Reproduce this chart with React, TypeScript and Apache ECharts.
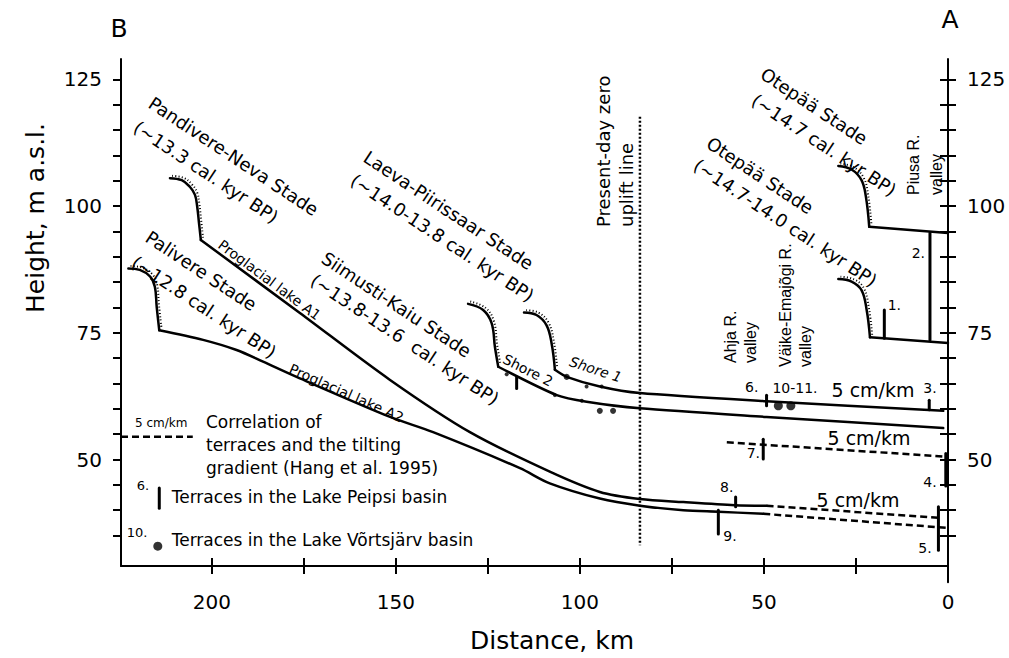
import React, { useEffect, useRef } from "react";
import * as echarts from "echarts";

// ---------- axes ----------
const xTicks = [0, 25, 50, 75, 100, 125, 150, 175, 200];
const xLabels = [0, 50, 100, 150, 200];
const yTicks = [35, 40, 45, 50, 55, 60, 65, 70, 75, 80, 85, 90, 95, 100, 105, 110, 115, 120, 125];
const yLabels = [50, 75, 100, 125];

// ---------- ice margins and shorelines [km, m a.s.l.] ----------
const pandivereMargin = [[211.4, 105.5], [208.2, 105.1], [206.0, 103.8], [204.6, 102.2], [204.0, 99.9], [203.5, 96.6], [203.0, 93.3]];
const lakeA1 = [[203.0, 93.3], [176.1, 78.9], [151.6, 65.7], [129.9, 55.4], [108.2, 47.6], [94.6, 43.6], [83.7, 42.2], [71.9, 41.6], [57.9, 41.0], [49.3, 40.9]];
const lakeA1Dashed = [[49.3, 40.9], [2.6, 38.5]];

const palivereMargin = [[222.7, 87.7], [219.6, 87.4], [216.8, 86.1], [215.5, 84.1], [215.0, 80.1], [214.3, 75.5]];
const lakeA2 = [[214.3, 75.5], [202.4, 73.6], [193.3, 71.6], [186.1, 69.3], [177.0, 66.3], [151.6, 58.4], [139.9, 55.4], [116.3, 48.3], [108.2, 45.3], [94.6, 42.3], [83.7, 40.9], [71.9, 40.0], [62.4, 39.7], [50.2, 39.3]];
const lakeA2Dashed = [[50.2, 39.3], [0, 36.5]];

const laevaMargin = [[115.2, 79.0], [111.8, 78.5], [109.1, 76.5], [107.7, 72.9], [106.8, 67.7]];
const shore1 = [[106.8, 67.7], [103.6, 66.3], [94.6, 64.4], [83.7, 63.1], [49.3, 61.5], [1.3, 59.6]];

const siimustiMargin = [[130.4, 80.7], [126.3, 79.5], [124.0, 76.9], [123.1, 72.2], [122.2, 68.3]];
const shore2 = [[122.2, 68.3], [106.3, 62.7], [98.2, 61.4], [83.7, 60.1], [49.3, 58.4], [1.3, 56.2]];

const otepaaUpperMargin = [[29.8, 107.9], [26.2, 107.2], [23.5, 105.1], [22.3, 101.8], [21.4, 95.9]];
const otepaaUpperShore = [[21.4, 95.9], [0, 94.7]];
const otepaaLowerMargin = [[29.8, 85.6], [26.2, 85.1], [23.5, 83.4], [22.1, 79.5], [21.2, 74.1]];
const otepaaLowerShore = [[21.2, 74.1], [0, 73.0]];

const gradient7 = [[60.1, 53.4], [1.3, 50.6]];
const legendGradient = [[224.7, 54.5], [205.2, 54.5]];
const zeroUpliftLine = [[83.7, 117.6], [83.7, 33.1]];

// ---------- terraces: [km, top m, bottom m] ----------
const peipsiTerraces = [
  [17.3, 79.5, 73.9], // 1
  [4.9, 94.7, 73.6], // 2
  [5.1, 61.7, 59.8], // 3
  [0.6, 51.2, 44.8], // 4
  [2.6, 40.7, 32.1], // 5
  [49.3, 62.7, 60.6], // 6
  [50.2, 54.0, 50.1], // 7
  [57.7, 42.6, 40.7], // 8
  [62.4, 40.0, 35.3], // 9
  [214.3, 44.4, 40.4], // legend
  [117.2, 66.3, 64.0], // shore mark
];
const vortsjarvDots = [[46.1, 60.6], [42.7, 60.6], [214.7, 32.9]];
const shoreDots = [[103.6, 66.3], [94.6, 59.6], [91.0, 59.6]];
const shoreSmallDots = [[106.8, 62.7], [99.5, 61.6], [98.2, 64.4], [94.1, 64.4], [119.9, 66.8]];

const axisExtensions = [
  [[0, 29], [-3.8, 29]],
  [[0, 29], [0, 25.8]],
];

const FONT = "DejaVu Sans, Verdana, sans-serif";
const NARROW = "Liberation Sans Narrow, Arial Narrow, Liberation Sans, sans-serif";
const BLACK = "#000";

function solid(data: number[][], smooth: number | boolean = false, width = 2.5) {
  return {
    type: "line", data, symbol: "none", smooth, silent: true, clip: false,
    lineStyle: { color: BLACK, width, cap: "round", join: "round" },
  };
}
function dashed(data: number[][]) {
  return {
    type: "line", data, symbol: "none", silent: true,
    lineStyle: { color: BLACK, width: 2.5, type: [7, 4] },
  };
}
function hachure(data: number[][]) {
  const shifted = data.map((p) => [p[0] - 0.6, p[1] + 0.45]);
  return {
    type: "line", data: shifted, symbol: "none", smooth: 0.4, silent: true,
    lineStyle: { color: BLACK, width: 2, type: [1, 2.2] },
  };
}

const deg = Math.PI / 180;
function txt(text: string, x: number, y: number, opts: any = {}) {
  return {
    type: "text", x, y, rotation: (opts.rot || 0) * deg, silent: true,
    style: {
      text, fill: BLACK, fontSize: opts.size || 18, fontFamily: opts.family || FONT,
      fontStyle: opts.italic ? "italic" : "normal",
      align: opts.align || "left", verticalAlign: opts.va || "middle",
    },
  };
}

export default function App() {
  const ref = useRef<HTMLDivElement>(null);
  useEffect(() => {
    document.body.style.margin = "0";
    const chart = echarts.init(ref.current!, null, { renderer: "svg" });
    const axisLine = { show: true, lineStyle: { color: BLACK, width: 2 } };
    const tickStyle = { color: BLACK, width: 2 };
    const xBase = {
      type: "value", min: 0, max: 224.7, inverse: true, position: "bottom",
      splitLine: { show: false }, axisLine: { ...axisLine, onZero: false },
    };
    const yBase = {
      type: "value", min: 29, max: 129, splitLine: { show: false },
      axisLine: { ...axisLine, onZero: false },
    };
    const series: any[] = [
      solid(pandivereMargin, 0.4), hachure(pandivereMargin), solid(lakeA1, 0.3), dashed(lakeA1Dashed),
      solid(palivereMargin, 0.4), hachure(palivereMargin), solid(lakeA2, 0.3), dashed(lakeA2Dashed),
      solid(laevaMargin, 0.4), hachure(laevaMargin), solid(shore1, 0.25),
      solid(siimustiMargin, 0.4), hachure(siimustiMargin), solid(shore2, 0.25),
      solid(otepaaUpperMargin, 0.4), hachure(otepaaUpperMargin), solid(otepaaUpperShore),
      solid(otepaaLowerMargin, 0.4), hachure(otepaaLowerMargin), solid(otepaaLowerShore),
      dashed(gradient7), dashed(legendGradient),
      {
        type: "line", data: zeroUpliftLine, symbol: "none", silent: true,
        lineStyle: { color: BLACK, width: 2.5, type: [2, 2] },
      },
      ...peipsiTerraces.map((t) => solid([[t[0], t[1]], [t[0], t[2]]], false, 3)),
      ...axisExtensions.map((d) => solid(d, false, 2)),
      { type: "scatter", data: vortsjarvDots, symbol: "circle", symbolSize: 9, itemStyle: { color: BLACK }, silent: true },
      { type: "scatter", data: shoreDots, symbol: "circle", symbolSize: 6, itemStyle: { color: BLACK }, silent: true },
      { type: "scatter", data: shoreSmallDots, symbol: "circle", symbolSize: 4, itemStyle: { color: BLACK }, silent: true },
    ];
    series.forEach((s) => { s.xAxisIndex = 0; s.yAxisIndex = 0; });

    const graphic: any[] = [
      txt("B", 119, 28, { size: 25, align: "center" }),
      txt("A", 950, 19, { size: 25, align: "center" }),
      txt("Height, m a.s.l.", 35, 218, { size: 25, rot: 90, align: "center" }),
      txt("Distance, km", 552, 640, { size: 25, align: "center" }),
      // stades
      txt("Pandivere-Neva Stade", 150.5, 101.3, { rot: -33.5 }),
      txt("(~13.3 cal. kyr BP)", 135.5, 125.3, { rot: -33.5 }),
      txt("Palivere Stade", 147.5, 235.3, { rot: -33.5 }),
      txt("(~12.8 cal. kyr BP)", 133.5, 260.3, { rot: -33.5 }),
      txt("Laeva-Piirissaar Stade", 365.5, 155.3, { rot: -33.5 }),
      txt("(~14.0-13.8 cal. kyr BP)", 352.5, 178.3, { rot: -33.5 }),
      txt("Siimusti-Kaiu Stade", 323.5, 256.3, { rot: -33.5 }),
      txt("(~13.8-13.6  cal. kyr BP)", 312.5, 278.3, { rot: -33.5 }),
      txt("Otepää Stade", 762.5, 72, { rot: -33.5 }),
      txt("(~14.7 cal. kyr BP)", 753.5, 98.3, { rot: -33.5 }),
      txt("Otepää Stade", 708.5, 141.3, { rot: -33.5 }),
      txt("(~14.7-14.0 cal. kyr BP)", 695.5, 163.3, { rot: -33.5 }),
      // lakes and shores
      txt("Proglacial lake A1", 220, 243, { size: 14, rot: -36.7 }),
      txt("Proglacial lake A2", 290, 368, { size: 14, rot: -24 }),
      txt("Shore 2", 504, 358, { size: 14, rot: -27 }),
      txt("Shore 1", 570, 361, { size: 14, rot: -18, italic: true }),
      // vertical labels
      txt("Present-day zero", 603, 227, { size: 18, rot: 90 }),
      txt("uplift line", 626, 227, { size: 18, rot: 90 }),
      txt("Ahja R.", 730, 363, { size: 16, rot: 90, family: NARROW }),
      txt("valley", 750.7, 363, { size: 16, rot: 90, family: NARROW }),
      txt("Väike-Emajõgi R.", 785, 367, { size: 16, rot: 90, family: NARROW }),
      txt("valley", 805, 367, { size: 16, rot: 90, family: NARROW }),
      txt("Piusa R.", 913, 195, { size: 16, rot: 90, family: NARROW }),
      txt("valley", 936.7, 195, { size: 16, rot: 90, family: NARROW }),
      // gradients
      txt("5 cm/km", 873, 390, { size: 19, align: "center" }),
      txt("5 cm/km", 869, 438, { size: 19, align: "center" }),
      txt("5 cm/km", 858, 500, { size: 19, align: "center" }),
      // terrace numbers
      txt("1.", 894.3, 305, { size: 14, align: "center" }),
      txt("2.", 918.3, 253.3, { size: 14, align: "center" }),
      txt("3.", 930, 388, { size: 14, align: "center" }),
      txt("4.", 930, 481.7, { size: 14, align: "center" }),
      txt("5.", 925, 548, { size: 14, align: "center" }),
      txt("6.", 751.7, 386.7, { size: 14, align: "center" }),
      txt("7.", 753.3, 453.3, { size: 14, align: "center" }),
      txt("8.", 726.7, 486.7, { size: 14, align: "center" }),
      txt("9.", 730, 536, { size: 14, align: "center" }),
      txt("10-11.", 795, 388.3, { size: 14, align: "center" }),
      // legend
      txt("5 cm/km", 135, 423, { size: 12 }),
      txt("Correlation of", 206, 421.7, { size: 17 }),
      txt("terraces and the tilting", 206, 445, { size: 17 }),
      txt("gradient (Hang et al. 1995)", 206, 468.3, { size: 17 }),
      txt("6.", 143, 485, { size: 13, align: "center" }),
      txt("Terraces in the Lake Peipsi basin", 171.7, 496.7, { size: 17 }),
      txt("10.", 137, 532, { size: 13, align: "center" }),
      txt("Terraces in the Lake Võrtsjärv basin", 171.7, 540, { size: 17 }),
    ];

    chart.setOption({
      animation: false,
      backgroundColor: "#fff",
      grid: { left: 121, right: 61, top: 59, bottom: 92, containLabel: false },
      xAxis: [
        {
          ...xBase,
          axisTick: { show: true, inside: false, length: 8, lineStyle: tickStyle, customValues: xTicks },
          axisLabel: { show: true, customValues: xLabels, margin: 26, fontSize: 20, fontFamily: FONT, color: BLACK },
        },
        {
          ...xBase, axisLine: { show: false },
          axisTick: { show: true, inside: true, length: 8, lineStyle: tickStyle, customValues: xTicks },
          axisLabel: { show: false },
        },
      ],
      yAxis: [
        {
          ...yBase, position: "left",
          axisTick: { show: true, inside: false, length: 8, lineStyle: tickStyle, customValues: yTicks },
          axisLabel: { show: true, customValues: yLabels, margin: 19, fontSize: 20, fontFamily: FONT, color: BLACK },
        },
        {
          ...yBase, position: "left", axisLine: { show: false },
          axisTick: { show: true, inside: true, length: 8, lineStyle: tickStyle, customValues: yTicks },
          axisLabel: { show: false },
        },
        {
          ...yBase, position: "right",
          axisTick: { show: true, inside: false, length: 8, lineStyle: tickStyle, customValues: yTicks },
          axisLabel: { show: true, customValues: yLabels, margin: 19, fontSize: 20, fontFamily: FONT, color: BLACK },
        },
        {
          ...yBase, position: "right", axisLine: { show: false },
          axisTick: { show: true, inside: true, length: 8, lineStyle: tickStyle, customValues: yTicks },
          axisLabel: { show: false },
        },
      ],
      series,
      graphic,
    });
    return () => chart.dispose();
  }, []);
  return <div ref={ref} style={{ width: 1009, height: 658 }} />;
}
